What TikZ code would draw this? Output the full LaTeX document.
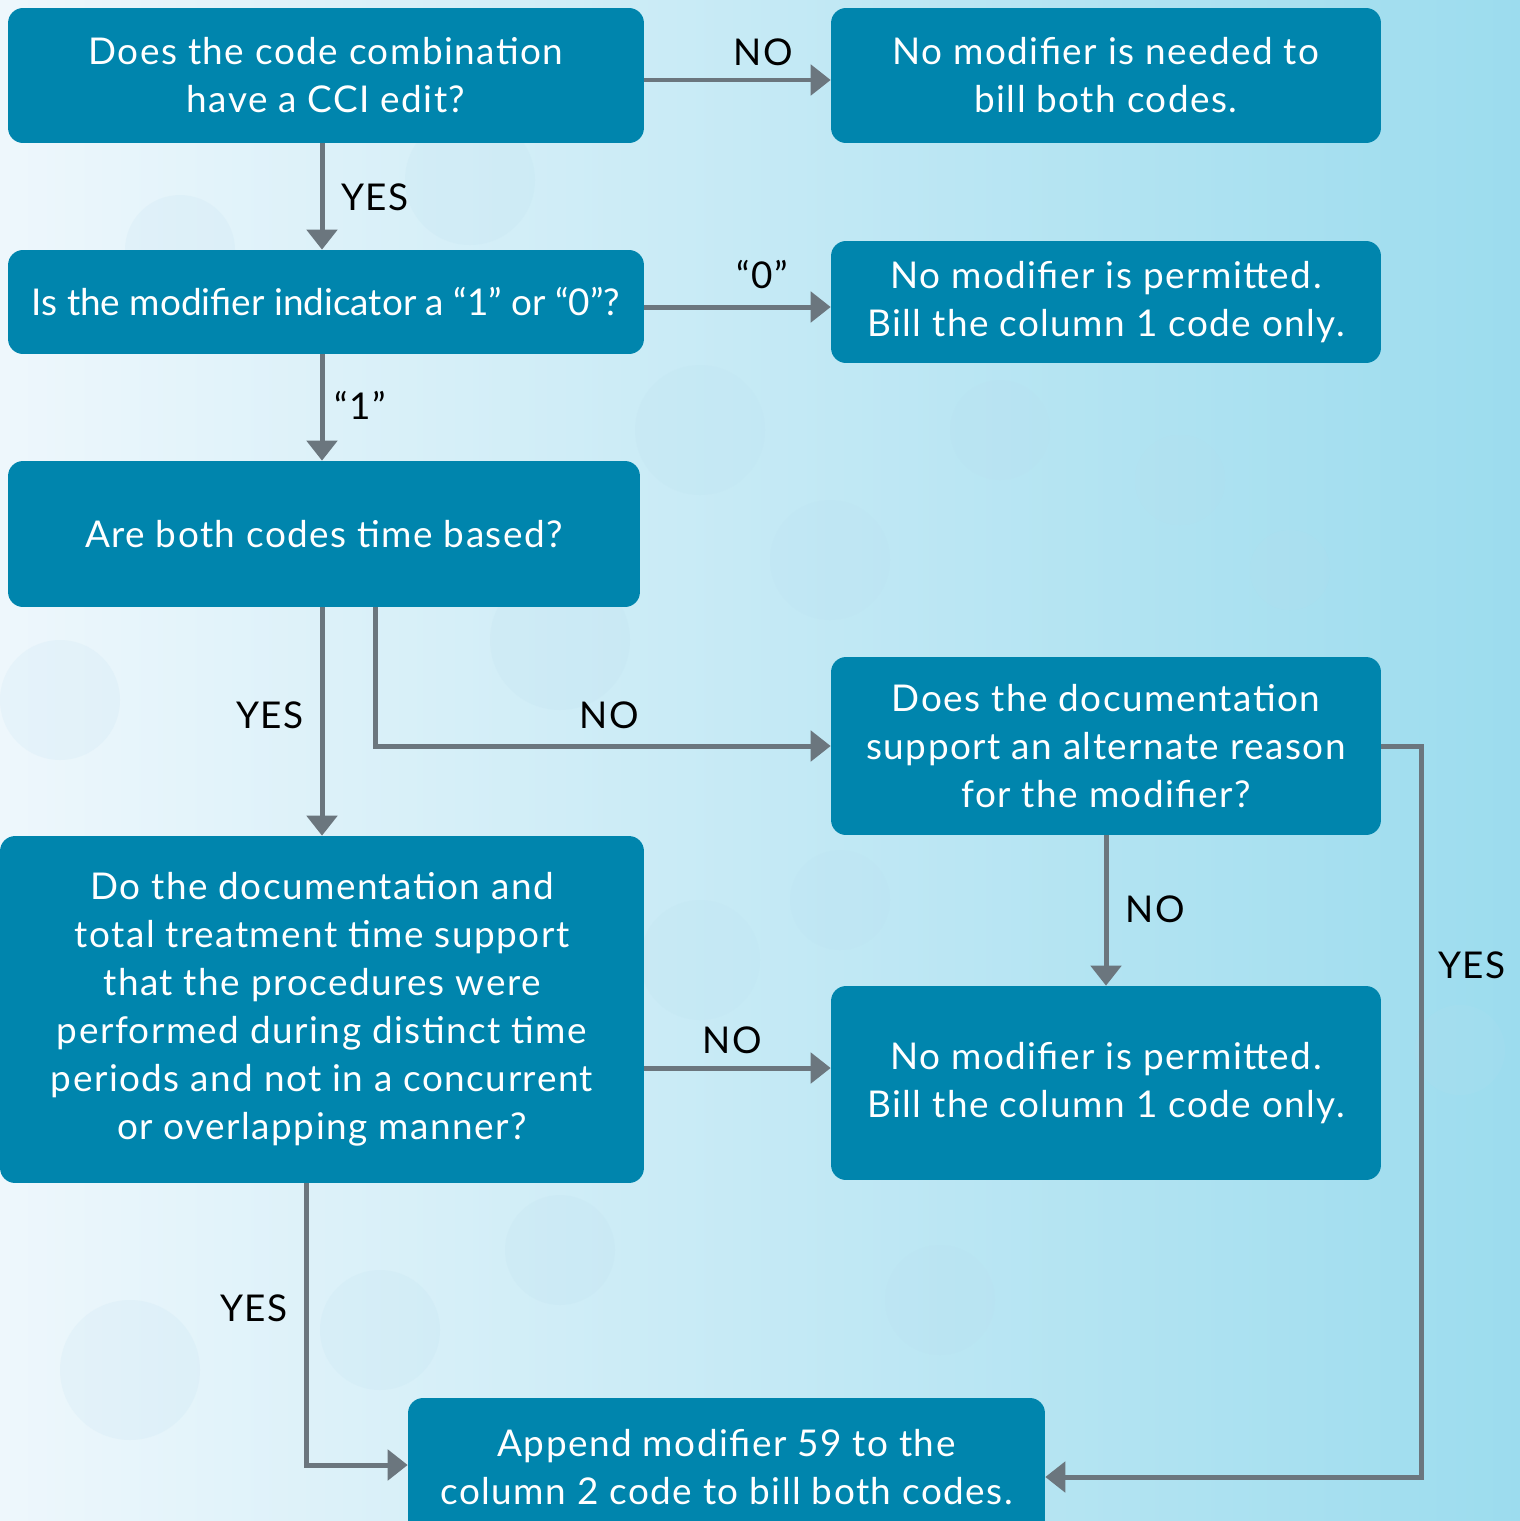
\documentclass[tikz,border=0pt]{standalone}
\usepackage{fontspec}
\setmainfont{Lato}[LetterSpace=4]
\newfontfamily\tightfont{Lato}
\usetikzlibrary{arrows.meta}
\definecolor{boxblue}{HTML}{0085AD}
\definecolor{linegray}{HTML}{6B767E}
\definecolor{bgleft}{HTML}{EEF7FC}
\definecolor{bgmid}{HTML}{CFEAF5}
\definecolor{bgright}{HTML}{9CDCEE}
\definecolor{bubble}{HTML}{B9DDEE}

\begin{document}
\begin{tikzpicture}[x=0.02cm,y=-0.02cm,
    qbox/.style={fill=boxblue, rounded corners=0.3cm, text=white, align=center,
      inner sep=0pt, font=\fontsize{21}{27.3}\selectfont},
    flow/.style={draw=linegray, line width=0.1cm,
      -{Triangle[length=0.4cm,width=0.6cm]}},
    lbl/.style={font=\fontsize{21}{27}\selectfont, text=black, inner sep=0pt}]
  % background
  \shade[left color=bgleft, middle color=bgmid, right color=bgright]
    (0,0) rectangle (1520,1521);
  \foreach \bx/\by/\br in {60/700/60, 180/250/55, 470/180/65, 560/640/70,
      700/430/65, 830/560/60, 930/300/55, 1000/430/50, 1180/480/45,
      380/1330/60, 560/1250/55, 700/960/60, 840/900/50, 940/1300/55,
      130/1370/70, 1290/570/40, 1460/1050/45, 500/1030/55}
    \fill[bubble, opacity=0.14] (\bx,\by) circle (\br);
  \useasboundingbox (0,0) rectangle (1520,1521);
  \coordinate (spine) at (322,0);
  % boxes
  \node[qbox, minimum width=12.72cm, minimum height=2.7cm] (ccibox) at (326,75.5)
    {Does the code combination\\have a CCI edit?};
  \node[qbox, minimum width=11cm, minimum height=2.7cm] (neednone) at (1106,75.5)
    {No modifier is needed to\\bill both codes.};
  \node[qbox, minimum width=12.72cm, minimum height=2.08cm] (modind) at (326,302)
    {\tightfont Is the modifier indicator a “1” or “0”?};
  \node[qbox, minimum width=11cm, minimum height=2.44cm] (permitA) at (1106,302)
    {No modifier is permitted.\\Bill the column 1 code only.};
  \node[qbox, minimum width=12.64cm, minimum height=2.92cm] (timebased) at (324,534)
    {Are both codes time based?};
  \node[qbox, minimum width=11cm, minimum height=3.56cm] (altreason) at (1106,746)
    {Does the documentation\\support an alternate reason\\for the modifier?};
  \node[qbox, minimum width=12.88cm, minimum height=6.94cm] (distinct) at (322,1009.5)
    {Do the documentation and\\total treatment time support\\that the procedures were\\performed during distinct time\\periods and not in a concurrent\\or overlapping manner?};
  \node[qbox, minimum width=11cm, minimum height=3.88cm] (permitB) at (1106,1083)
    {No modifier is permitted.\\Bill the column 1 code only.};
  \node[qbox, minimum width=12.74cm, minimum height=2.76cm] (append) at (726.5,1467)
    {Append modifier 59 to the\\column 2 code to bill both codes.};
  % connectors
  \draw[flow] ([yshift=-0.09cm]ccibox.east) -- ([yshift=-0.09cm]neednone.west);
  \draw[flow] (ccibox.south -| spine) -- (modind.north -| spine);
  \draw[flow] ([yshift=-0.1cm]modind.east) -- ([yshift=-0.1cm]permitA.west);
  \draw[flow] (modind.south -| spine) -- (timebased.north -| spine);
  \draw[flow] (timebased.south -| spine) -- (distinct.north -| spine);
  \draw[flow] ([xshift=1.04cm]timebased.south) |- (altreason.west);
  \draw[flow] (altreason.south) -- (permitB.north);
  \draw[flow] (altreason.east) -- ++(40,0) |- ([yshift=-0.2cm]append.east);
  \coordinate (gh) at ([yshift=0.3cm]permitB.west);
  \draw[flow] (distinct.east |- gh) -- (gh);
  \draw[flow] ([xshift=-0.32cm]distinct.south) |- ([yshift=0.04cm]append.west);
  % labels
  \node[lbl] (noA) at (763,52) {NO};
  \node[lbl] (yesA) at (375,197) {YES};
  \node[lbl] (zero) at (762,275) {“0”};
  \node[lbl] (one) at (360,405) {“1”};
  \node[lbl] (yesB) at (270,715) {YES};
  \node[lbl] (noB) at (609,715) {NO};
  \node[lbl] (noC) at (1155,909) {NO};
  \node[lbl] (yesC) at (1472,965) {YES};
  \node[lbl] (noD) at (732,1040) {NO};
  \node[lbl] (yesD) at (254,1308) {YES};
\end{tikzpicture}
\end{document}
